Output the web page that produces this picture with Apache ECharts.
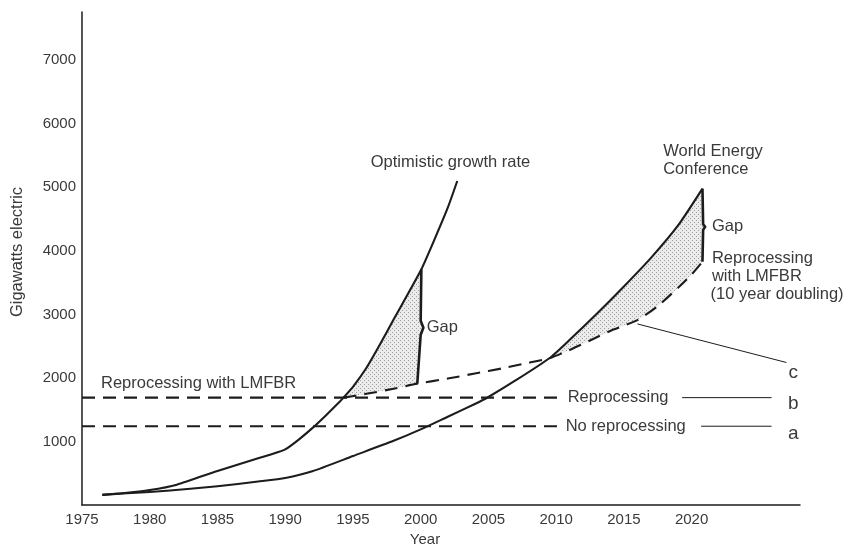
<!DOCTYPE html>
<html>
<head>
<meta charset="utf-8">
<script src="https://cdn.jsdelivr.net/npm/echarts@6/dist/echarts.min.js"></script>
<style>
  html, body { margin: 0; padding: 0; background: #fff; }
  #chart { width: 843px; height: 552px; }
</style>
</head>
<body>
<div id="chart"></div>
<script>
// Installed capacity scenarios, gigawatts electric by year
const xTickLabels = [1975, 1980, 1985, 1990, 1995, 2000, 2005, 2010, 2015, 2020];
const yTickLabels = [1000, 2000, 3000, 4000, 5000, 6000, 7000];

const optimisticGrowth = [
  [1976.5, 160], [1978, 185], [1980, 235], [1982, 320], [1985, 535], [1987, 670],
  [1989, 800], [1990, 875], [1991, 1030], [1992, 1210], [1993, 1410], [1994, 1620],
  [1994.3, 1690], [1995, 1860], [1996, 2160], [1997, 2530], [1998, 2920], [1999, 3300],
  [2000.05, 3710], [2001, 4170], [2002, 4680], [2002.7, 5100]
];

const worldEnergyConference = [
  [1976.5, 160], [1978, 180], [1980, 205], [1983, 255], [1985, 295], [1988, 370],
  [1990, 425], [1992, 530], [1995, 770], [1998, 1010], [2000, 1190], [2002, 1390],
  [2004, 1590], [2005, 1700], [2007, 1960], [2009.5, 2310], [2011, 2600], [2013, 3010],
  [2015, 3440], [2017, 3890], [2019, 4400], [2020.8, 4980]
];

// c: reprocessing with LMFBR, 10 year doubling
const lmfbrReprocessing = [
  [1994.3, 1690], [1996, 1750], [1998, 1830], [1999.75, 1910], [2002, 1990], [2004, 2070],
  [2006, 2150], [2008, 2240], [2009.5, 2310], [2011, 2440], [2012.5, 2590], [2014, 2740],
  [2016, 2910], [2017.5, 3130], [2019, 3420], [2020, 3630], [2020.8, 3830]
];

// b and a: flat limits
const reprocessingLimit = [[1975, 1690], [2010.5, 1690]];
const noReprocessingLimit = [[1975, 1240], [2010.3, 1240]];

// Curly "gap" markers between the demand curves and curve c
const gapBraceOptimistic = [[2000.05, 3710], [2000.0, 2900], [2000.2, 2790], [2000.0, 2680], [1999.75, 1910]];
const gapBraceConference = [[2020.8, 4980], [2020.85, 4420], [2021.0, 4380], [2020.85, 4330], [2020.8, 3830]];

// Leader lines to the a / b / c tags
const leaderB = [[2019.3, 1690], [2025.9, 1690]];
const leaderA = [[2020.7, 1240], [2025.9, 1240]];
const leaderC = [[2016.0, 2850], [2027.0, 2243]];

// Text notes: [year, gigawatts, text, horizontal align]
const notes = [
  [2002.2, 5390, 'Optimistic growth rate', 'center'],
  [2000.45, 2790, 'Gap', 'left'],
  [2017.9, 5570, 'World Energy', 'left'],
  [2017.9, 5275, 'Conference', 'left'],
  [2021.5, 4390, 'Gap', 'left'],
  [2021.5, 3875, 'Reprocessing', 'left'],
  [2021.5, 3595, 'with LMFBR', 'left'],
  [2021.4, 3315, '(10 year doubling)', 'left'],
  [1976.4, 1920, 'Reprocessing with LMFBR', 'left'],
  [2010.85, 1690, 'Reprocessing', 'left'],
  [2010.7, 1240, 'No reprocessing', 'left'],
  [2027.5, 2080, 'c', 'center'],
  [2027.5, 1600, 'b', 'center'],
  [2027.5, 1125, 'a', 'center']
];

const inRange = (pts, lo, hi) => pts.filter(p => p[0] >= lo && p[0] <= hi);

// Shaded gap areas: demand curve forward, brace down, curve c back
const gapAreas = [
  inRange(optimisticGrowth, 1994.3, 2000.05)
    .concat(gapBraceOptimistic.slice(1, -1))
    .concat(inRange(lmfbrReprocessing, 1994.3, 1999.75).reverse()),
  inRange(worldEnergyConference, 2009.5, 2020.8)
    .concat(gapBraceConference.slice(1, -1))
    .concat(inRange(lmfbrReprocessing, 2009.5, 2020.8).reverse())
];

// Dotted screen used to fill the gaps
const stipple = (() => {
  const c = document.createElement('canvas');
  c.width = 4; c.height = 4;
  const g = c.getContext('2d');
  g.fillStyle = '#ebebeb';
  g.fillRect(0, 0, 4, 4);
  g.fillStyle = '#a0a0a0';
  g.fillRect(0, 0, 1, 1);
  g.fillRect(2, 2, 1, 1);
  return c;
})();

const FONT = 'Liberation Sans, Arial, Helvetica, sans-serif';
const INK = '#1c1c1c';
const TEXT = '#3a3a3a';

function lineSeries(data, width, dash, smooth) {
  return {
    type: 'line',
    data: data,
    showSymbol: false,
    symbol: 'none',
    silent: true,
    clip: false,
    smooth: smooth || false,
    z: 3,
    lineStyle: { color: INK, width: width, type: dash || 'solid', cap: 'butt', join: 'round' }
  };
}

const chart = echarts.init(document.getElementById('chart'), null, { renderer: 'canvas' });

chart.setOption({
  animation: false,
  backgroundColor: '#ffffff',
  grid: { left: 82, right: 43, top: 12, bottom: 41 },
  xAxis: {
    type: 'value',
    min: 1975,
    max: 2028,
    interval: 5,
    name: 'Year',
    nameLocation: 'middle',
    nameGap: 27,
    nameTextStyle: { fontFamily: FONT, fontSize: 15, color: TEXT, padding: [0, 32, 0, 0] },
    axisLine: { lineStyle: { color: INK, width: 1.5 } },
    axisTick: { show: false },
    splitLine: { show: false },
    axisLabel: {
      fontFamily: FONT, fontSize: 15, color: TEXT, margin: 7,
      formatter: v => (xTickLabels.indexOf(v) >= 0 ? String(v) : '')
    }
  },
  yAxis: {
    type: 'value',
    min: 0,
    max: 7760,
    interval: 1000,
    name: 'Gigawatts electric',
    nameLocation: 'middle',
    nameGap: 56,
    nameTextStyle: { fontFamily: FONT, fontSize: 16.5, color: TEXT, padding: [0, 0, 0, 13] },
    axisLine: { lineStyle: { color: INK, width: 1.5 } },
    axisTick: { show: false },
    splitLine: { show: false },
    axisLabel: {
      fontFamily: FONT, fontSize: 15, color: TEXT, margin: 6,
      formatter: v => (yTickLabels.indexOf(v) >= 0 ? String(v) : '')
    }
  },
  series: [
    {
      type: 'custom',
      silent: true,
      z: 1,
      data: gapAreas.map(a => a[0]),
      renderItem: (params, api) => ({
        type: 'polygon',
        shape: { points: gapAreas[params.dataIndex].map(p => api.coord(p)) },
        style: { fill: { image: stipple, repeat: 'repeat' }, stroke: null }
      })
    },
    lineSeries(optimisticGrowth, 2.1, null, 0.2),
    lineSeries(worldEnergyConference, 2.1, null, 0.2),
    lineSeries(lmfbrReprocessing, 2.1, [13, 8], 0.2),
    lineSeries(reprocessingLimit, 2.1, [13, 8]),
    lineSeries(noReprocessingLimit, 2.1, [13, 8]),
    lineSeries(gapBraceOptimistic, 2.6),
    lineSeries(gapBraceConference, 2.6),
    lineSeries(leaderB, 1),
    lineSeries(leaderA, 1),
    lineSeries(leaderC, 1),
    {
      type: 'custom',
      silent: true,
      z: 5,
      clip: false,
      data: notes.map(n => [n[0], n[1]]),
      renderItem: (params, api) => {
        const n = notes[params.dataIndex];
        const p = api.coord([n[0], n[1]]);
        const isTag = n[2].length === 1;
        return {
          type: 'text',
          x: p[0],
          y: p[1],
          style: {
            text: n[2],
            fill: TEXT,
            fontFamily: FONT,
            fontSize: isTag ? 19 : 16.5,
            align: n[3],
            verticalAlign: 'middle'
          }
        };
      }
    }
  ]
});
</script>
</body>
</html>
